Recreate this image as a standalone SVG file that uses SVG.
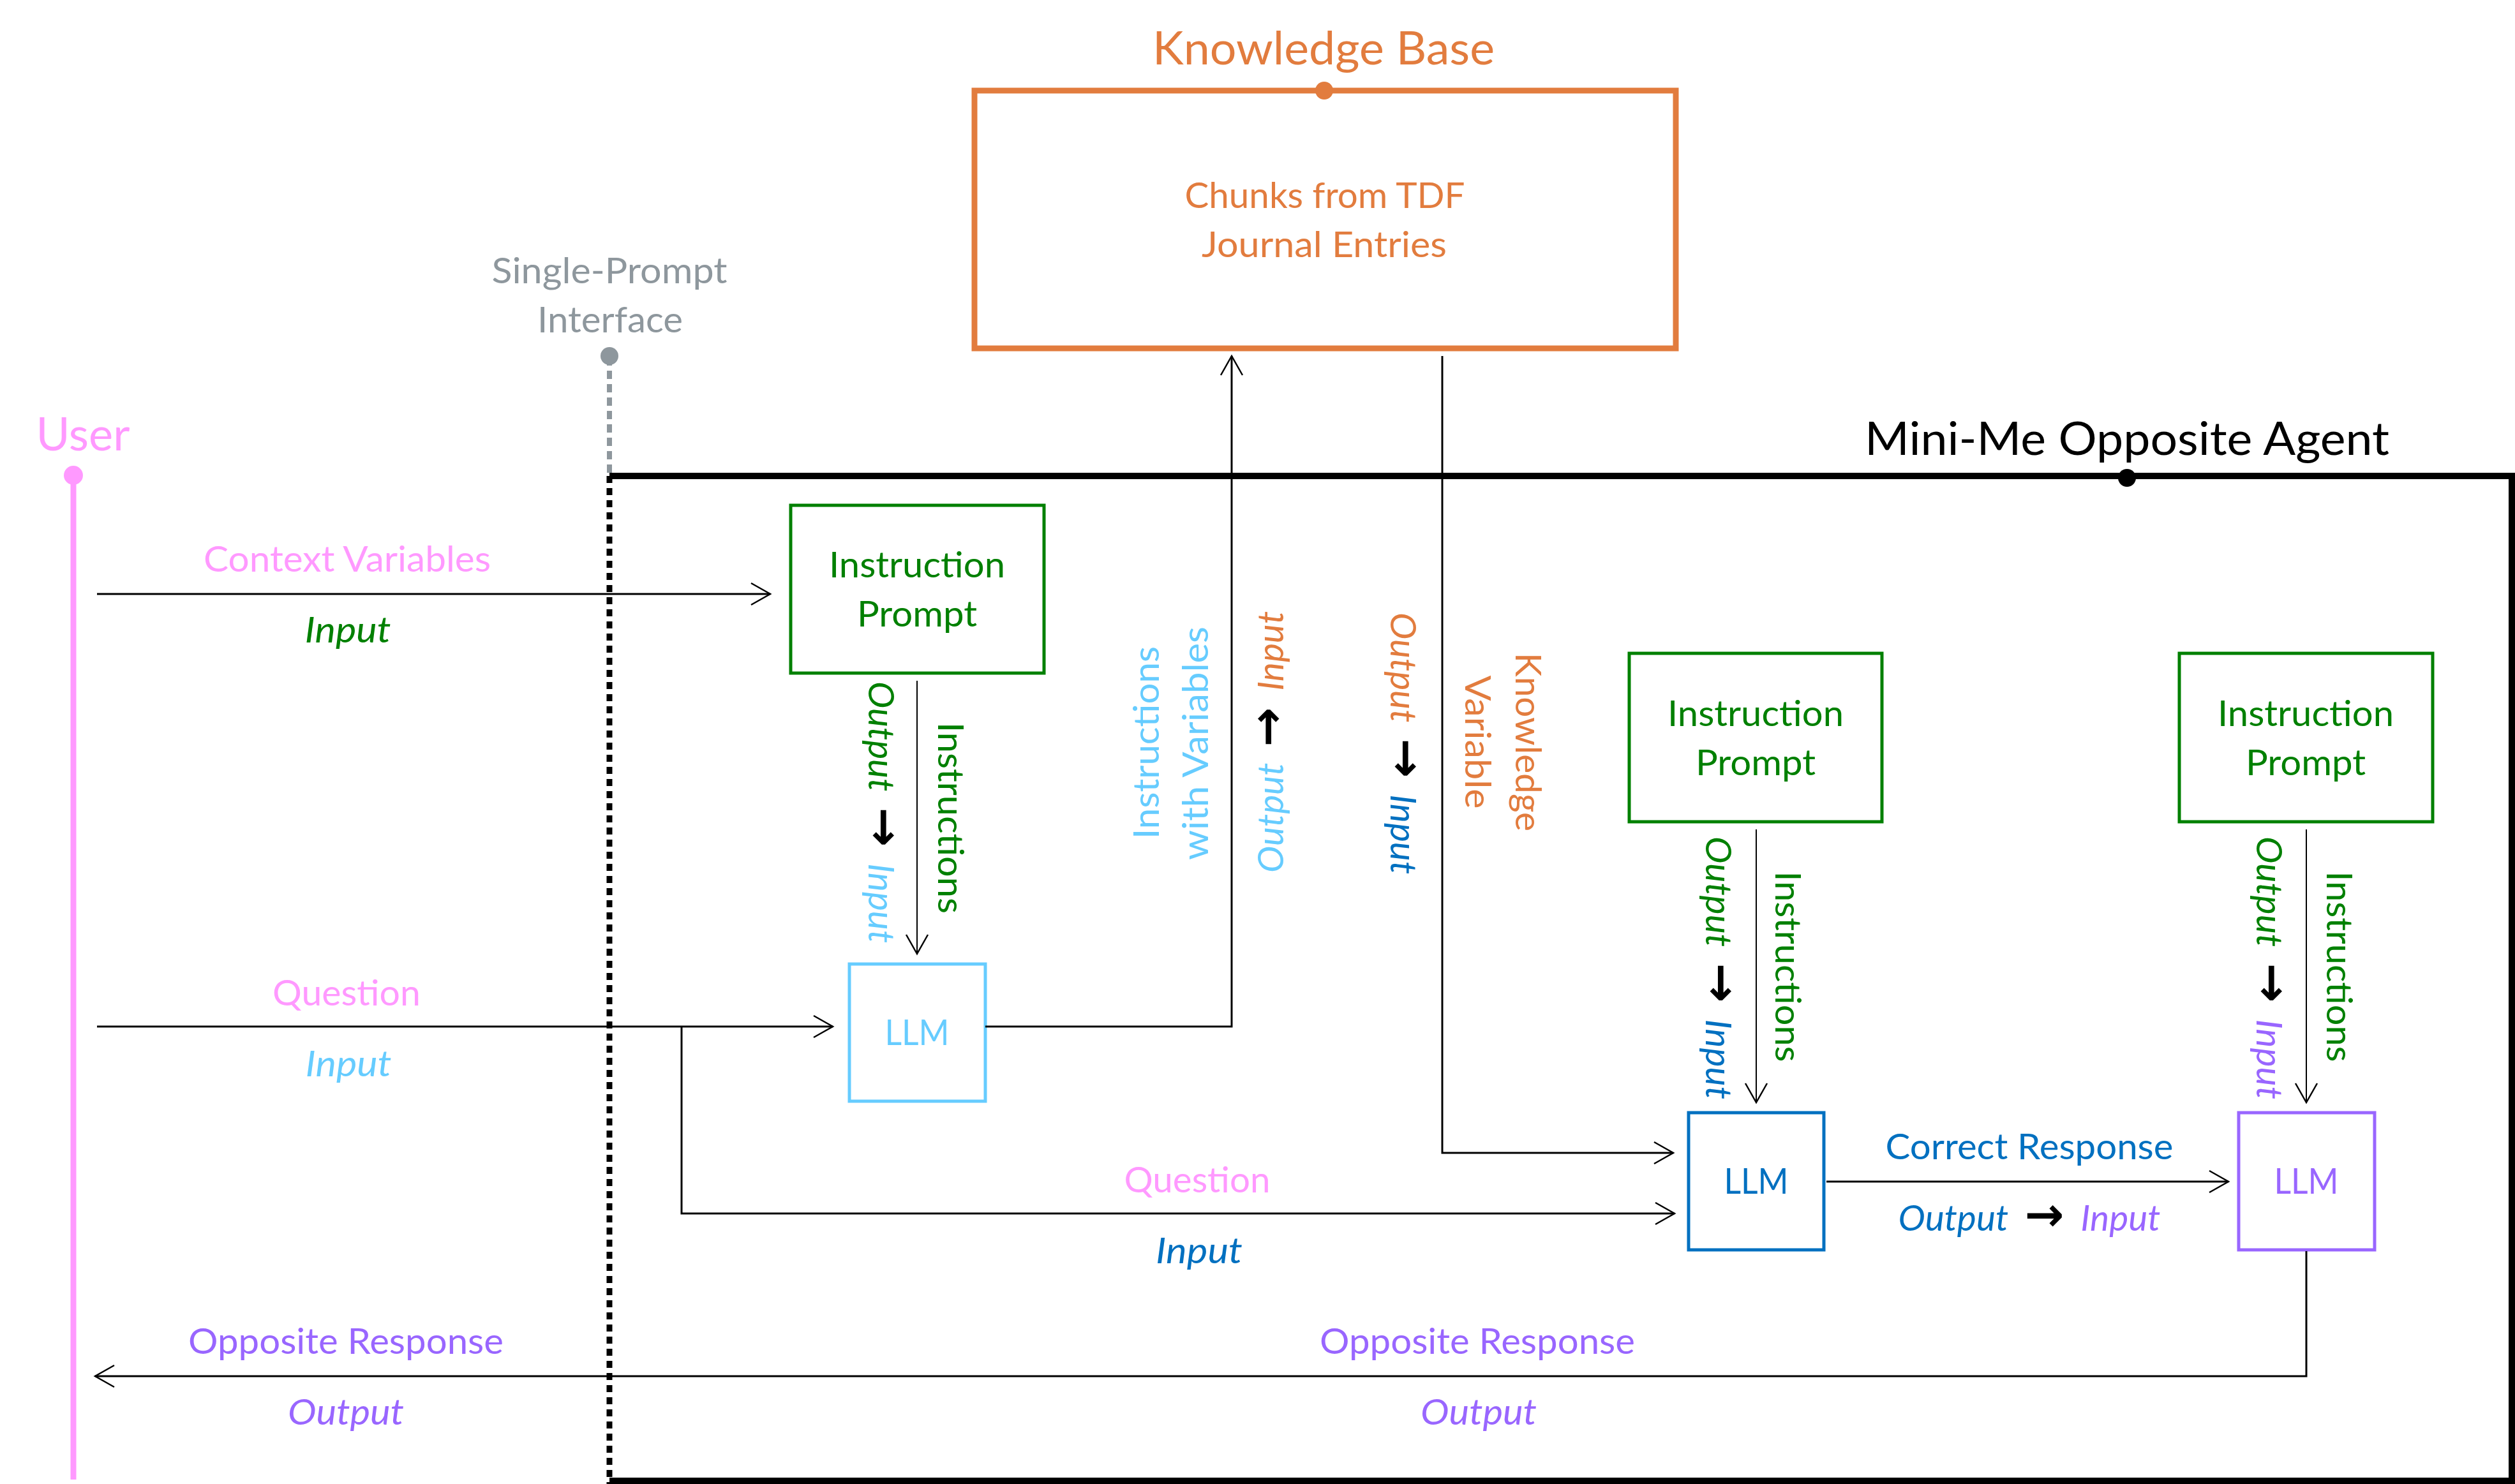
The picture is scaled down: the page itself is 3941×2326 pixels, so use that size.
<svg xmlns="http://www.w3.org/2000/svg" width="3941" height="2326" viewBox="0 0 3941 2326">
<style>
text{font-family:Lato,"Open Sans","DejaVu Sans",sans-serif;font-size:57px;text-anchor:middle}
.t{font-size:72px}
.i{font-style:italic}
.ar{font-family:"DejaVu Sans",sans-serif;font-weight:bold;font-style:normal;font-size:74px;fill:#000}
.pink{fill:#FF99FF}.lb{fill:#66CCFF}.bl{fill:#0070C0}.pu{fill:#9966FF}.gr{fill:#008000}.or{fill:#E27C3E}.gy{fill:#8E979D}.bk{fill:#000}
.box{fill:none;stroke-width:5}
.c{fill:none;stroke:#000;stroke-width:3}
.c2{fill:none;stroke:#000;stroke-width:2}
</style>
<defs>
<marker id="ah" markerUnits="userSpaceOnUse" markerWidth="40" markerHeight="40" viewBox="-36 -20 40 40" refX="0" refY="0" orient="auto">
<path d="M-30,-17 L0,0 L-30,17" fill="none" stroke="#000" stroke-width="2.5"/>
</marker>
</defs>
<rect width="3941" height="2326" fill="#fff"/>

<g id="user">
<line x1="115" y1="745" x2="115" y2="2319" stroke="#FF99FF" stroke-width="9"/>
<circle cx="115" cy="745" r="15" fill="#FF99FF"/>
<text class="t pink" x="130" y="706" textLength="147" lengthAdjust="spacingAndGlyphs">User</text>
</g>

<g id="single-prompt-interface">
<line x1="955" y1="560" x2="955" y2="744" stroke="#8E979D" stroke-width="8" stroke-dasharray="13 8"/>
<line x1="955" y1="746" x2="955" y2="2326" stroke="#000" stroke-width="9" stroke-dasharray="11 8"/>
<circle cx="955" cy="558" r="14" fill="#8E979D"/>
<text class="gy" x="955" y="444" textLength="369" lengthAdjust="spacingAndGlyphs">Single-Prompt</text>
<text class="gy" x="956" y="521" textLength="228" lengthAdjust="spacingAndGlyphs">Interface</text>
</g>

<g id="mini-me-agent">
<path d="M955,746 H3936 V2321 H955" fill="none" stroke="#000" stroke-width="10"/>
<circle cx="3333" cy="749" r="14" fill="#000"/>
<text class="t bk" x="3333" y="713" textLength="822" lengthAdjust="spacingAndGlyphs">Mini-Me Opposite Agent</text>
</g>

<g id="knowledge-base">
<rect x="1527" y="142" width="1099" height="404" fill="none" stroke="#E27C3E" stroke-width="9"/>
<circle cx="2075" cy="142" r="14" fill="#E27C3E"/>
<text class="t or" x="2074" y="101" textLength="536" lengthAdjust="spacingAndGlyphs">Knowledge Base</text>
<text class="or" x="2076" y="326" textLength="439" lengthAdjust="spacingAndGlyphs">Chunks from TDF</text>
<text class="or" x="2075" y="403" textLength="384" lengthAdjust="spacingAndGlyphs">Journal Entries</text>
</g>

<g id="instruction-prompt-1">
<rect class="box" x="1239" y="792" width="397" height="263" stroke="#008000"/>
<text class="gr" x="1437" y="905" textLength="276" lengthAdjust="spacingAndGlyphs">Instruction</text>
<text class="gr" x="1437" y="982" textLength="188" lengthAdjust="spacingAndGlyphs">Prompt</text>
</g>

<g id="instruction-prompt-2">
<rect class="box" x="2553" y="1024" width="396" height="264" stroke="#008000"/>
<text class="gr" x="2751" y="1138" textLength="276" lengthAdjust="spacingAndGlyphs">Instruction</text>
<text class="gr" x="2751" y="1215" textLength="188" lengthAdjust="spacingAndGlyphs">Prompt</text>
</g>

<g id="instruction-prompt-3">
<rect class="box" x="3415" y="1024" width="397" height="264" stroke="#008000"/>
<text class="gr" x="3613" y="1138" textLength="276" lengthAdjust="spacingAndGlyphs">Instruction</text>
<text class="gr" x="3613" y="1215" textLength="188" lengthAdjust="spacingAndGlyphs">Prompt</text>
</g>

<g id="llm-1">
<rect class="box" x="1331" y="1511" width="213" height="215" stroke="#66CCFF"/>
<text class="lb" x="1437" y="1638" textLength="101" lengthAdjust="spacingAndGlyphs">LLM</text>
</g>

<g id="llm-2">
<rect class="box" x="2646" y="1744" width="212" height="215" stroke="#0070C0"/>
<text class="bl" x="2752" y="1871" textLength="101" lengthAdjust="spacingAndGlyphs">LLM</text>
</g>

<g id="llm-3">
<rect class="box" x="3508" y="1744" width="213" height="215" stroke="#9966FF"/>
<text class="pu" x="3614" y="1871" textLength="101" lengthAdjust="spacingAndGlyphs">LLM</text>
</g>

<g id="connectors">
<line class="c" x1="152" y1="931" x2="1207" y2="931" marker-end="url(#ah)"/>
<line class="c" x1="152" y1="1609" x2="1305" y2="1609" marker-end="url(#ah)"/>
<path class="c" d="M1068,1609 V1902 H2624" marker-end="url(#ah)"/>
<path class="c" d="M1544,1609 H1930 V558" marker-end="url(#ah)"/>
<path class="c" d="M2260,558 V1807 H2622" marker-end="url(#ah)"/>
<line class="c2" x1="1437" y1="1067" x2="1437" y2="1495" marker-end="url(#ah)"/>
<line class="c2" x1="2752" y1="1300" x2="2752" y2="1728" marker-end="url(#ah)"/>
<line class="c2" x1="3614" y1="1300" x2="3614" y2="1728" marker-end="url(#ah)"/>
<line class="c" x1="2862" y1="1852" x2="3492" y2="1852" marker-end="url(#ah)"/>
<path class="c" d="M3614,1961 V2157 H149" marker-end="url(#ah)"/>
</g>

<g id="labels">
<text class="pink" x="544" y="896" textLength="450" lengthAdjust="spacingAndGlyphs">Context Variables</text>
<text class="gr i" x="545" y="1007" textLength="135" lengthAdjust="spacingAndGlyphs">Input</text>
<text class="pink" x="543" y="1576" textLength="232" lengthAdjust="spacingAndGlyphs">Question</text>
<text class="lb i" x="546" y="1687" textLength="135" lengthAdjust="spacingAndGlyphs">Input</text>
<text class="pink" x="1876" y="1869" textLength="229" lengthAdjust="spacingAndGlyphs">Question</text>
<text class="bl i" x="1879" y="1980" textLength="136" lengthAdjust="spacingAndGlyphs">Input</text>
<text class="bl" x="3180" y="1817" textLength="451" lengthAdjust="spacingAndGlyphs">Correct Response</text>
<text x="3180" y="1929" textLength="411" lengthAdjust="spacingAndGlyphs"><tspan class="bl i">Output</tspan><tspan class="ar"> → </tspan><tspan class="pu i">Input</tspan></text>
<text class="pu" x="542" y="2122" textLength="494" lengthAdjust="spacingAndGlyphs">Opposite Response</text>
<text class="pu i" x="542" y="2233" textLength="182" lengthAdjust="spacingAndGlyphs">Output</text>
<text class="pu" x="2315" y="2122" textLength="494" lengthAdjust="spacingAndGlyphs">Opposite Response</text>
<text class="pu i" x="2317" y="2233" textLength="182" lengthAdjust="spacingAndGlyphs">Output</text>

<text transform="translate(1361,1273) rotate(90)" textLength="410" lengthAdjust="spacingAndGlyphs"><tspan class="gr i">Output</tspan><tspan class="ar"> → </tspan><tspan class="lb i">Input</tspan></text>
<text class="gr" transform="translate(1470,1282) rotate(90)" textLength="300" lengthAdjust="spacingAndGlyphs">Instructions</text>

<text transform="translate(2673,1517) rotate(90)" textLength="412" lengthAdjust="spacingAndGlyphs"><tspan class="gr i">Output</tspan><tspan class="ar"> → </tspan><tspan class="bl i">Input</tspan></text>
<text class="gr" transform="translate(2782,1515) rotate(90)" textLength="299" lengthAdjust="spacingAndGlyphs">Instructions</text>

<text transform="translate(3536,1517) rotate(90)" textLength="412" lengthAdjust="spacingAndGlyphs"><tspan class="gr i">Output</tspan><tspan class="ar"> → </tspan><tspan class="pu i">Input</tspan></text>
<text class="gr" transform="translate(3646,1515) rotate(90)" textLength="299" lengthAdjust="spacingAndGlyphs">Instructions</text>

<text class="lb" transform="translate(1816,1164) rotate(-90)" textLength="302" lengthAdjust="spacingAndGlyphs">Instructions</text>
<text class="lb" transform="translate(1893,1165) rotate(-90)" textLength="366" lengthAdjust="spacingAndGlyphs">with Variables</text>
<text transform="translate(2011,1163) rotate(-90)" textLength="410" lengthAdjust="spacingAndGlyphs"><tspan class="lb i">Output</tspan><tspan class="ar"> → </tspan><tspan class="or i">Input</tspan></text>

<text transform="translate(2179,1165) rotate(90)" textLength="410" lengthAdjust="spacingAndGlyphs"><tspan class="or i">Output</tspan><tspan class="ar"> → </tspan><tspan class="bl i">Input</tspan></text>
<text class="or" transform="translate(2375,1163) rotate(90)" textLength="280" lengthAdjust="spacingAndGlyphs">Knowledge</text>
<text class="or" transform="translate(2296,1163) rotate(90)" textLength="209" lengthAdjust="spacingAndGlyphs">Variable</text>
</g>
</svg>
